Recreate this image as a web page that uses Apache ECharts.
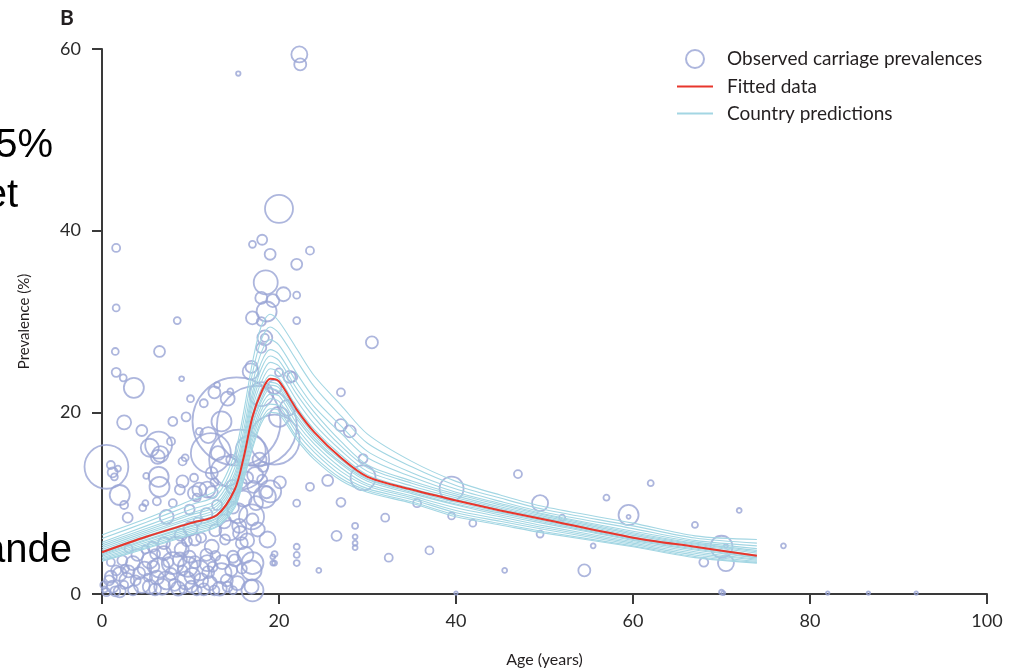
<!DOCTYPE html>
<html><head><meta charset="utf-8">
<script src="https://cdn.jsdelivr.net/npm/echarts@6/dist/echarts.min.js"></script>
<style>html,body{margin:0;padding:0;background:#fff;overflow:hidden}#c{width:1017px;height:668px}</style>
</head><body><div id="c"></div>
<script>
// Age grid for fitted / country prediction curves
const ages = [0,5,10,13,15,16,17,18,19,20,22,24,27,30,35,40,45,50,60,67,74];
const fitted = [4.6,6.3,7.8,8.7,11.5,15.0,19.5,22.2,23.7,23.4,20.3,17.8,15.0,12.9,11.5,10.3,9.2,8.2,6.2,5.2,4.2];
const country1 = [6.5,8.3,10.3,11.5,15.5,20.0,25.5,29.5,30.8,30.0,27.0,24.0,20.8,17.6,14.6,12.4,10.9,9.6,7.8,6.4,6.0];
const country2 = [6.1,7.9,9.8,10.9,14.7,19.0,24.3,28.0,29.4,28.7,25.7,22.8,19.6,16.6,14.0,11.95,10.56,9.3,7.5,6.16,5.6];
const country3 = [5.7,7.5,9.3,10.4,13.9,18.0,23.1,26.6,28.0,27.4,24.3,21.5,18.5,15.7,13.35,11.55,10.2,9.0,7.2,5.9,5.3];
const country4 = [5.5,7.2,8.9,10.0,13.3,17.3,22.2,25.5,26.9,26.4,23.3,20.6,17.7,15.0,12.9,11.2,9.97,8.8,6.9,5.74,5.0];
const country5 = [5.3,7.0,8.7,9.7,12.9,16.8,21.6,24.8,26.2,25.7,22.6,20.0,16.8,14.2,12.45,11.0,9.8,8.7,6.75,5.6,4.8];
const country6 = [5.1,6.8,8.4,9.4,12.5,16.3,21.0,24.0,25.5,25.1,22.0,19.4,16.3,13.9,12.2,10.8,9.6,8.55,6.6,5.5,4.65];
const country7 = [4.9,6.6,8.2,9.1,12.1,15.8,20.4,23.3,24.8,24.4,21.3,18.7,15.8,13.5,11.9,10.6,9.45,8.4,6.45,5.4,4.5];
const country8 = [4.7,6.4,7.9,8.8,11.7,15.3,19.8,22.6,24.1,23.7,20.6,18.1,15.3,13.1,11.6,10.4,9.3,8.3,6.3,5.26,4.3];
const country9 = [4.5,6.2,7.7,8.6,11.3,14.8,19.2,21.9,23.3,23.0,20.0,17.5,14.8,12.7,11.35,10.1,9.04,8.05,6.1,5.08,4.1];
const country10 = [4.4,6.0,7.5,8.4,11.1,14.5,18.8,21.5,23.0,22.7,19.6,17.2,14.5,12.6,11.2,9.9,8.9,7.9,6.0,4.96,4.0];
const country11 = [4.3,5.9,7.4,8.3,10.9,14.3,18.5,21.2,22.6,22.3,19.3,16.9,14.3,12.4,11.05,9.8,8.7,7.75,5.9,4.84,3.96];
const country12 = [4.15,5.7,7.2,8.1,10.6,13.9,17.9,20.7,22.0,21.8,18.8,16.5,13.9,12.1,10.8,9.5,8.5,7.5,5.75,4.66,3.84];
const country13 = [4.0,5.5,7.0,7.9,10.3,13.5,17.4,20.2,21.5,21.2,18.3,16.0,13.5,11.9,10.6,9.2,8.24,7.3,5.6,4.48,3.72];
const country14 = [3.85,5.3,6.8,7.7,10.0,13.1,16.9,19.7,20.9,20.7,17.8,15.6,13.1,11.6,10.4,8.95,8.0,7.1,5.45,4.3,3.6];
const country15 = [3.7,5.13,6.6,7.5,9.7,12.75,16.35,19.15,20.4,20.2,17.3,15.1,12.75,11.4,10.15,8.7,7.76,6.85,5.3,4.12,3.48];
const country16 = [3.6,5.0,6.5,7.4,9.5,12.5,16.0,18.8,20.0,19.8,17.0,14.8,12.5,11.2,10.0,8.5,7.6,6.7,5.2,4.0,3.4];
const countries = [country1,country2,country3,country4,country5,country6,country7,country8,country9,country10,country11,country12,country13,country14,country15,country16];

// Observed carriage prevalences: [age, prevalence %, sample weight]
const observed = [
[21.9,60.9,16],[22.3,59.4,64],[22.4,58.3,36],[15.4,57.3,5],
[20.0,42.4,196],[18.1,39.0,25],[17.0,38.5,12],[1.6,38.1,16],
[19.0,37.4,30],[23.5,37.8,16],[22.0,36.3,30],[18.5,34.3,144],[18.0,32.6,36],[19.3,32.3,42],[20.5,33.0,49],[22.0,32.9,12],[18.6,31.1,100],[17.0,30.4,42],[18.0,30.0,20],[22.0,30.1,12],[18.4,28.2,56],[18.4,28.2,16],[18.0,27.1,25],[16.9,25.0,36],[30.5,27.7,36],
[1.6,31.5,12],[8.5,30.1,12],[1.5,26.7,12],[6.5,26.7,30],[1.6,24.4,20],[2.4,23.8,12],[3.6,22.7,100],[9.0,23.7,6],[10.0,21.5,12],[2.5,18.9,49],[8.0,19.0,20],[4.5,18.0,30],[9.5,19.5,20],[14.5,22.3,9],
[6.4,16.4,180],[6.6,15.4,64],[5.4,16.1,81],[6.3,15.1,49],[7.8,16.8,16],
[0.5,14.0,480],[1.2,13.4,25],[1.0,14.2,16],[1.4,12.9,12],[1.8,13.8,9],
[5.0,13.0,9],[6.4,12.9,100],[6.5,11.8,100],[9.1,12.4,36],[10.4,12.8,16],[9.4,15.0,12],[11.0,11.5,49],[12.4,11.2,36],[12.7,12.3,16],
[2.0,10.9,100],[2.5,9.8,16],[2.9,8.4,25],[4.6,9.5,12],[4.9,10.0,9],[8.0,10.0,16],[6.2,10.2,16],[7.3,8.5,49],[9.9,9.3,25],[10.7,10.6,16],
[14.8,11.8,49],[15.8,12.2,25],[17.1,11.8,36],[18.1,12.6,25],[19.0,11.3,121],[20.1,12.3,36],
[27.0,22.2,16],[27.0,18.6,36],[28.0,17.9,36],[29.5,14.9,20],[29.5,12.8,156],[25.5,12.5,30],[23.5,11.8,16],[22.0,10.0,12],[27.0,10.1,20],[28.6,7.5,9],[26.5,6.4,25],[28.6,6.3,6],[28.6,5.6,6],[28.6,5.1,6],[22.0,5.2,9],[22.0,4.3,9],[22.0,3.4,9],[19.5,4.4,9],[19.5,3.4,6],[24.5,2.6,6],[21.5,23.9,25],[20.0,24.4,16],[21.2,23.9,36],
[32.0,8.4,16],[32.4,4.0,16],[37.0,4.8,16],[35.6,10.0,16],[39.5,11.6,144],[39.5,8.6,12],[41.9,7.8,12],[47.0,13.2,16],[45.5,2.6,6],[49.5,10.0,64],[52.0,8.4,9],[49.5,6.6,12],[54.5,2.6,36],[55.5,5.3,6],[57.0,10.6,9],[59.5,8.7,100],[59.5,8.5,4],[62.0,12.2,9],[67.0,7.6,9],[70.0,5.2,121],[70.5,3.4,64],[68.0,3.5,20],[70.5,5.3,4],[72.0,9.2,6],[70.0,0.2,6],[70.2,0.1,4],[77.0,5.3,6],[40.0,0.1,3],[82.0,0.1,3],[86.6,0.1,3],[92.0,0.1,3],
[9.1,14.6,16],[8.8,11.5,25],[10.5,11.1,49],[11.9,11.5,64],[12.4,13.3,36],[13.1,15.5,49],[14.6,14.8,25],[17.8,14.8,49],[18.2,14.0,25],[17.3,13.1,64],[18.4,10.7,121],[16.9,8.5,156],[15.3,8.9,100],[17.6,7.1,49],[15.8,5.6,36],[18.7,6.0,64],[13.9,6.0,25],[12.4,5.2,49],[10.5,6.0,36],[9.0,4.9,49],[9.7,3.0,100],[11.9,3.4,64],[13.5,2.3,100],[15.0,3.7,36],[16.9,2.6,100],[10.1,0.8,36],[12.7,0.4,25],[14.2,0.8,25],[16.9,0.8,49],
[1.2,0.8,36],[2.8,1.5,56],[4.2,2.3,36],[1.6,2.6,25],[3.5,3.4,49],[5.4,3.7,64],[6.5,2.9,100],[8.0,3.4,121],[7.3,1.5,81],[9.5,1.5,81],[8.4,5.2,100],[9.9,4.1,36],[11.0,2.6,100],[12.5,3.0,25],[12.2,1.2,49],[14.1,1.5,36],[14.8,0.4,16],[17.0,0.4,121],[17.0,3.4,121],[10.7,0.4,25],[5.4,0.8,49],[3.5,0.4,25],[0.5,0.2,16],[2.3,3.7,25],[9.1,2.6,25],[5.7,5.2,25],[11.8,4.3,36],[14.8,4.1,36],[15.6,6.7,49],[14.4,7.0,100],[16.4,5.9,49],[17.0,8.2,36],[17.4,10.0,49],[18.6,11.2,36],[19.3,4.1,6],[19.3,3.4,6],
[0.8,1.5,25],[2.0,0.3,36],[4.5,1.0,64],[6.0,0.5,36],[7.0,4.5,49],[3.0,5.0,16],[4.0,4.3,36],[6.2,1.8,49],[8.6,0.6,49],[7.8,2.2,36],[9.6,5.8,25],[10.2,2.0,64],[11.5,0.5,36],[13.3,0.6,49],[0.3,0.5,9],[1.0,3.5,16],[2.0,2.2,49],
[0.2,1.0,12],[1.5,0.3,25],[2.5,1.0,16],[3.0,2.5,36],[3.8,1.5,25],[4.8,2.8,49],[5.2,1.8,16],[5.8,3.0,36],[6.8,0.8,64],[7.5,3.5,25],[8.2,1.0,36],[8.8,3.8,49],[9.2,0.5,16],[10.5,3.5,36],[11.2,1.5,49],[12.0,2.4,36],[12.8,4.2,25],[13.6,3.5,49],[14.6,2.6,36],[15.3,1.2,49],[15.8,2.8,25],[16.2,4.3,64],[7.0,5.6,36],[6.0,4.4,25],[4.9,4.9,16],[2.6,2.8,16],[1.0,1.9,36],[8.9,6.5,36],[10.0,7.2,49],[11.2,6.2,25],[12.8,7.0,36],[13.8,8.0,49],[14.8,9.5,36],[16.0,10.5,64],[15.5,7.5,49],[16.4,12.8,36],[13.0,9.8,25],[11.8,8.8,36],[10.8,8.0,16],
[15.2,19.0,1936],[17.5,18.5,1600],[15.5,14.8,900],[12.3,15.5,400],[19.5,17.0,625],[14.0,13.5,225],[16.8,15.8,225],[20.0,19.5,100],[18.0,22.0,144],[16.8,24.5,64],[19.5,22.8,49],[21.0,20.5,64],[13.5,19.0,100],[12.0,17.5,64],[14.2,21.5,49],[11.5,21.0,16],[13.0,23.0,9],[11.0,17.9,12],[12.7,22.2,36]
];

const xTicks = [0,20,40,60,80,100];
const yTicks = [0,20,40,60];

const chart = echarts.init(document.getElementById('c'), null, {renderer:'canvas'});
const axisCol = '#3a3a3a';
const lineBlue = '#a3d6e3';
const lineIcon = 'path://M0,0L36,0L36,1.8L0,1.8Z';
const series = [{
  name:'Observed carriage prevalences', type:'scatter', data: observed,
  symbol:'circle', symbolSize: v => Math.sqrt(v[2]) * 2,
  itemStyle:{color:'rgba(255,255,255,0)', borderColor:'#99a4d4', borderWidth:1.8},
  z:2, silent:true
}];
countries.forEach(c => series.push({
  name:'Country predictions', type:'line', data: ages.map((a,i)=>[a,c[i]]),
  showSymbol:false, symbol:'none', smooth:0.3,
  lineStyle:{color:lineBlue, width:1.1}, itemStyle:{color:lineBlue}, z:3, silent:true
}));
series.push({
  name:'Fitted data', type:'line', data: ages.map((a,i)=>[a,fitted[i]]),
  showSymbol:false, symbol:'none', smooth:0.3,
  lineStyle:{color:'#e8362c', width:2}, itemStyle:{color:'#e8362c'}, z:4, silent:true
});

chart.setOption({
  animation:false,
  grid:{left:102, right:30, top:49, bottom:74, containLabel:false, outerBoundsMode:'none'},
  legend:{
    orient:'vertical', left:677, top:49, padding:0, itemWidth:36, itemHeight:18, itemGap:8,
    data:[
      {name:'Observed carriage prevalences', icon:'circle', itemStyle:{color:'rgba(255,255,255,0)', borderColor:'#99a4d4', borderWidth:2}},
      {name:'Fitted data', icon:lineIcon},
      {name:'Country predictions', icon:lineIcon}
    ],
    textStyle:{fontFamily:'Lato', fontSize:19, lineHeight:18, color:'#231f20', padding:[0,0,0,9]},
    selectedMode:false
  },
  xAxis:{
    type:'value', min:0, max:100, interval:20,
    name:'Age (years)', nameLocation:'middle', nameGap:58,
    nameTextStyle:{fontFamily:'Lato', fontSize:16, color:'#231f20'},
    axisLine:{show:true, lineStyle:{color:axisCol, width:2}},
    axisTick:{show:true, length:10, lineStyle:{color:axisCol, width:2}},
    axisLabel:{fontFamily:'Lato', fontSize:18, color:'#2a2a2a', margin:18, formatter: v => xTicks.includes(v) ? String(v) : ''},
    splitLine:{show:false}
  },
  yAxis:{
    type:'value', min:0, max:60, interval:20,
    name:'Prevalence (%)', nameLocation:'middle', nameGap:70, nameRotate:90,
    nameTextStyle:{fontFamily:'Lato', fontSize:15, color:'#231f20'},
    axisLine:{show:true, onZero:false, lineStyle:{color:axisCol, width:2}},
    axisTick:{show:true, length:10, lineStyle:{color:axisCol, width:2}},
    axisLabel:{fontFamily:'Lato', fontSize:18, color:'#2a2a2a', margin:21, formatter: v => yTicks.includes(v) ? String(v) : ''},
    splitLine:{show:false}
  },
  graphic:[
    {type:'text', left:60, top:8, style:{text:'B', font:'bold 21px Lato', fill:'#231f20'}},
    {type:'text', x:53, y:166, style:{text:'5%', font:'40px "Liberation Sans"', fill:'#000', textAlign:'right', textVerticalAlign:'bottom'}},
    {type:'text', x:18, y:216, style:{text:'et', font:'40px "Liberation Sans"', fill:'#000', textAlign:'right', textVerticalAlign:'bottom'}},
    {type:'text', x:72, y:571, style:{text:'ande', font:'40px "Liberation Sans"', fill:'#000', textAlign:'right', textVerticalAlign:'bottom'}}
  ],
  series: series
});
</script>
</body></html>
